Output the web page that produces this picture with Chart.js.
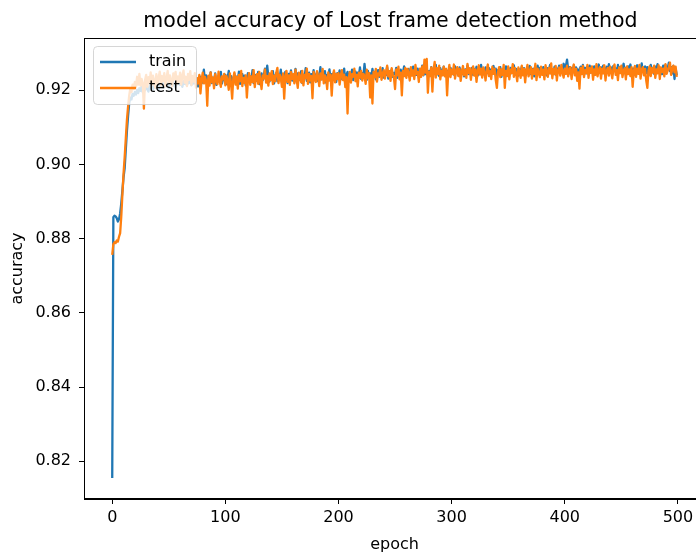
<!DOCTYPE html>
<html>
<head>
<meta charset="utf-8">
<title>model accuracy</title>
<script src="https://cdn.jsdelivr.net/npm/chart.js@4.4.1/dist/chart.umd.min.js"></script>
<style>
  html, body { margin: 0; padding: 0; background: #fff; overflow: hidden; }
  #wrap { width: 706px; height: 554px; }
</style>
</head>
<body>
<div id="wrap"><canvas id="accChart" width="706" height="554"></canvas></div>
<script>
// 图表数据
const chartTitle = 'model accuracy of Lost frame detection method';
const xLabel = 'epoch';
const yLabel = 'accuracy';
const seriesNames = ['train', 'test'];
const xTicks = [0, 100, 200, 300, 400, 500];
const yTicks = [0.82, 0.84, 0.86, 0.88, 0.90, 0.92];

// 训练集准确率，每个 epoch 一个值
const trainAcc = [
  0.8155, 0.8858, 0.8862, 0.8860, 0.8855, 0.8846, 0.8852, 0.8868, 0.8895, 0.8930, 0.8965, 0.8990, 0.9040, 0.9090, 0.9130, 0.9165, 0.9180, 0.9175, 0.9190, 0.9185,
  0.9195, 0.9188, 0.9201, 0.9192, 0.9205, 0.9198, 0.9210, 0.9194, 0.9207, 0.9200, 0.9213, 0.9203, 0.9196, 0.9211, 0.9205, 0.9216, 0.9202, 0.9209, 0.9219, 0.9206,
  0.9213, 0.9201, 0.9218, 0.9209, 0.9222, 0.9207, 0.9215, 0.9224, 0.9210, 0.9219, 0.9205, 0.9221, 0.9214, 0.9226, 0.9212, 0.9220, 0.9208, 0.9223, 0.9216, 0.9229,
  0.9214, 0.9222, 0.9209, 0.9225, 0.9217, 0.9230, 0.9212, 0.9224, 0.9219, 0.9232, 0.9213, 0.9226, 0.9218, 0.9233, 0.9215, 0.9227, 0.9210, 0.9224, 0.9236, 0.9218,
  0.9229, 0.9255, 0.9221, 0.9240, 0.9217, 0.9236, 0.9226, 0.9248, 0.9219, 0.9233, 0.9224, 0.9245, 0.9214, 0.9231, 0.9238, 0.9222, 0.9249, 0.9218, 0.9235, 0.9227,
  0.9241, 0.9216, 0.9233, 0.9252, 0.9223, 0.9238, 0.9212, 0.9229, 0.9244, 0.9220, 0.9236, 0.9227, 0.9250, 0.9217, 0.9232, 0.9243, 0.9224, 0.9239, 0.9213, 0.9230,
  0.9246, 0.9222, 0.9237, 0.9228, 0.9254, 0.9219, 0.9234, 0.9241, 0.9225, 0.9249, 0.9216, 0.9232, 0.9245, 0.9227, 0.9239, 0.9258, 0.9230, 0.9266, 0.9236, 0.9223,
  0.9242, 0.9229, 0.9251, 0.9218, 0.9237, 0.9246, 0.9224, 0.9240, 0.9231, 0.9255, 0.9221, 0.9238, 0.9227, 0.9249, 0.9235, 0.9219, 0.9244, 0.9230, 0.9253, 0.9226,
  0.9240, 0.9233, 0.9257, 0.9222, 0.9245, 0.9236, 0.9228, 0.9251, 0.9219, 0.9242, 0.9234, 0.9259, 0.9225, 0.9238, 0.9247, 0.9221, 0.9243, 0.9232, 0.9254, 0.9227,
  0.9239, 0.9248, 0.9224, 0.9236, 0.9262, 0.9229, 0.9244, 0.9233, 0.9251, 0.9220, 0.9241, 0.9237, 0.9256, 0.9226, 0.9243, 0.9231, 0.9249, 0.9235, 0.9222, 0.9246,
  0.9238, 0.9253, 0.9229, 0.9245, 0.9234, 0.9258, 0.9225, 0.9240, 0.9249, 0.9231, 0.9244, 0.9236, 0.9255, 0.9227, 0.9242, 0.9250, 0.9233, 0.9247, 0.9239, 0.9261,
  0.9230, 0.9246, 0.9237, 0.9271, 0.9241, 0.9228, 0.9252, 0.9235, 0.9245, 0.9232, 0.9257, 0.9238, 0.9249, 0.9229, 0.9244, 0.9254, 0.9236, 0.9248, 0.9240, 0.9259,
  0.9234, 0.9247, 0.9241, 0.9262, 0.9231, 0.9250, 0.9239, 0.9256, 0.9236, 0.9246, 0.9243, 0.9260, 0.9233, 0.9251, 0.9240, 0.9255, 0.9237, 0.9248, 0.9264, 0.9238,
  0.9252, 0.9242, 0.9257, 0.9235, 0.9249, 0.9244, 0.9263, 0.9239, 0.9253, 0.9241, 0.9258, 0.9236, 0.9250, 0.9246, 0.9266, 0.9240, 0.9255, 0.9243, 0.9259, 0.9237,
  0.9251, 0.9245, 0.9262, 0.9240, 0.9256, 0.9247, 0.9268, 0.9242, 0.9254, 0.9238, 0.9259, 0.9249, 0.9244, 0.9263, 0.9241, 0.9257, 0.9246, 0.9252, 0.9239, 0.9260,
  0.9248, 0.9255, 0.9242, 0.9264, 0.9246, 0.9253, 0.9240, 0.9261, 0.9250, 0.9244, 0.9258, 0.9237, 0.9256, 0.9249, 0.9266, 0.9243, 0.9254, 0.9247, 0.9260, 0.9241,
  0.9257, 0.9251, 0.9263, 0.9239, 0.9255, 0.9245, 0.9268, 0.9248, 0.9253, 0.9242, 0.9261, 0.9250, 0.9246, 0.9259, 0.9238, 0.9256, 0.9252, 0.9265, 0.9244, 0.9258,
  0.9240, 0.9254, 0.9247, 0.9262, 0.9236, 0.9251, 0.9258, 0.9243, 0.9264, 0.9249, 0.9255, 0.9241, 0.9260, 0.9246, 0.9253, 0.9267, 0.9244, 0.9257, 0.9250, 0.9239,
  0.9256, 0.9248, 0.9263, 0.9245, 0.9259, 0.9252, 0.9241, 0.9261, 0.9247, 0.9265, 0.9243, 0.9254, 0.9258, 0.9237, 0.9255, 0.9249, 0.9266, 0.9246, 0.9260, 0.9251,
  0.9244, 0.9262, 0.9250, 0.9257, 0.9240, 0.9259, 0.9253, 0.9268, 0.9245, 0.9256, 0.9248, 0.9263, 0.9242, 0.9258, 0.9251, 0.9266, 0.9247, 0.9260, 0.9254, 0.9271,
  0.9258, 0.9265, 0.9282, 0.9256, 0.9262, 0.9244, 0.9259, 0.9251, 0.9267, 0.9248, 0.9261, 0.9255, 0.9240, 0.9257, 0.9263, 0.9249, 0.9268, 0.9252, 0.9260, 0.9245,
  0.9262, 0.9254, 0.9266, 0.9247, 0.9258, 0.9251, 0.9264, 0.9243, 0.9259, 0.9256, 0.9269, 0.9248, 0.9261, 0.9253, 0.9266, 0.9246, 0.9257, 0.9263, 0.9250, 0.9270,
  0.9255, 0.9261, 0.9247, 0.9265, 0.9252, 0.9259, 0.9244, 0.9268, 0.9254, 0.9262, 0.9249, 0.9257, 0.9271, 0.9251, 0.9260, 0.9245, 0.9264, 0.9256, 0.9269, 0.9250,
  0.9258, 0.9241, 0.9263, 0.9255, 0.9267, 0.9248, 0.9261, 0.9253, 0.9272, 0.9249, 0.9259, 0.9264, 0.9246, 0.9262, 0.9240, 0.9257, 0.9268, 0.9252, 0.9260, 0.9244,
  0.9263, 0.9255, 0.9270, 0.9249, 0.9261, 0.9257, 0.9243, 0.9266, 0.9252, 0.9268, 0.9247, 0.9259, 0.9274, 0.9251, 0.9262, 0.9245, 0.9265, 0.9230, 0.9258, 0.9240
];

// 测试集准确率
const testAcc = [
  0.8756, 0.8785, 0.8790, 0.8788, 0.8795, 0.8792, 0.8805, 0.8815, 0.8860, 0.8920, 0.8975, 0.9020, 0.9070, 0.9120, 0.9155, 0.9185, 0.9205, 0.9195, 0.9215, 0.9203,
  0.9222, 0.9208, 0.9236, 0.9215, 0.9244, 0.9212, 0.9230, 0.9218, 0.9150, 0.9227, 0.9241, 0.9209, 0.9235, 0.9221, 0.9248, 0.9214, 0.9239, 0.9225, 0.9207, 0.9243,
  0.9218, 0.9234, 0.9250, 0.9213, 0.9238, 0.9224, 0.9246, 0.9210, 0.9233, 0.9252, 0.9219, 0.9240, 0.9226, 0.9211, 0.9245, 0.9229, 0.9249, 0.9216, 0.9237, 0.9222,
  0.9247, 0.9215, 0.9239, 0.9253, 0.9220, 0.9236, 0.9211, 0.9244, 0.9228, 0.9251, 0.9214, 0.9238, 0.9223, 0.9246, 0.9207, 0.9232, 0.9218, 0.9241, 0.9191, 0.9229,
  0.9247, 0.9218, 0.9236, 0.9225, 0.9158, 0.9239, 0.9212, 0.9248, 0.9221, 0.9234, 0.9205, 0.9243, 0.9227, 0.9216, 0.9250, 0.9224, 0.9209, 0.9237, 0.9229, 0.9244,
  0.9213, 0.9238, 0.9226, 0.9201, 0.9245, 0.9219, 0.9177, 0.9232, 0.9248, 0.9215, 0.9236, 0.9204, 0.9241, 0.9224, 0.9252, 0.9211, 0.9233, 0.9219, 0.9240, 0.9180,
  0.9229, 0.9246, 0.9214, 0.9237, 0.9222, 0.9254, 0.9208, 0.9235, 0.9243, 0.9217, 0.9249, 0.9226, 0.9203, 0.9240, 0.9231, 0.9256, 0.9220, 0.9238, 0.9212, 0.9245,
  0.9227, 0.9251, 0.9216, 0.9239, 0.9224, 0.9247, 0.9260, 0.9219, 0.9242, 0.9233, 0.9209, 0.9245, 0.9177, 0.9236, 0.9252, 0.9222, 0.9240, 0.9214, 0.9249, 0.9230,
  0.9243, 0.9218, 0.9255, 0.9229, 0.9206, 0.9247, 0.9235, 0.9221, 0.9252, 0.9213, 0.9241, 0.9232, 0.9258, 0.9217, 0.9244, 0.9226, 0.9238, 0.9178, 0.9249, 0.9234,
  0.9222, 0.9251, 0.9236, 0.9211, 0.9245, 0.9229, 0.9257, 0.9218, 0.9240, 0.9233, 0.9203, 0.9248, 0.9226, 0.9242, 0.9185, 0.9237, 0.9253, 0.9221, 0.9244, 0.9230,
  0.9246, 0.9215, 0.9239, 0.9254, 0.9227, 0.9242, 0.9208, 0.9235, 0.9137, 0.9231, 0.9249, 0.9220, 0.9243, 0.9236, 0.9258, 0.9224, 0.9241, 0.9210, 0.9247, 0.9233,
  0.9252, 0.9226, 0.9244, 0.9238, 0.9217, 0.9255, 0.9232, 0.9246, 0.9180, 0.9240, 0.9164, 0.9249, 0.9235, 0.9257, 0.9223, 0.9245, 0.9239, 0.9261, 0.9228, 0.9243,
  0.9254, 0.9231, 0.9248, 0.9266, 0.9237, 0.9251, 0.9225, 0.9259, 0.9242, 0.9234, 0.9203, 0.9256, 0.9240, 0.9263, 0.9229, 0.9247, 0.9186, 0.9252, 0.9238, 0.9260,
  0.9233, 0.9257, 0.9245, 0.9226, 0.9262, 0.9239, 0.9253, 0.9230, 0.9268, 0.9243, 0.9249, 0.9222, 0.9258, 0.9236, 0.9264, 0.9241, 0.9282, 0.9247, 0.9284, 0.9193,
  0.9250, 0.9238, 0.9261, 0.9196, 0.9255, 0.9276, 0.9234, 0.9259, 0.9244, 0.9266, 0.9229, 0.9252, 0.9240, 0.9263, 0.9237, 0.9257, 0.9186, 0.9249, 0.9268, 0.9235,
  0.9255, 0.9243, 0.9269, 0.9231, 0.9251, 0.9262, 0.9238, 0.9257, 0.9225, 0.9248, 0.9265, 0.9240, 0.9254, 0.9233, 0.9271, 0.9246, 0.9259, 0.9228, 0.9252, 0.9264,
  0.9239, 0.9256, 0.9222, 0.9250, 0.9267, 0.9242, 0.9258, 0.9234, 0.9261, 0.9247, 0.9226, 0.9254, 0.9269, 0.9238, 0.9251, 0.9230, 0.9263, 0.9244, 0.9257, 0.9227,
  0.9206, 0.9249, 0.9262, 0.9235, 0.9256, 0.9241, 0.9268, 0.9206, 0.9252, 0.9238, 0.9264, 0.9229, 0.9255, 0.9246, 0.9270, 0.9236, 0.9259, 0.9243, 0.9224, 0.9261,
  0.9248, 0.9233, 0.9266, 0.9240, 0.9257, 0.9221, 0.9253, 0.9268, 0.9237, 0.9250, 0.9262, 0.9231, 0.9256, 0.9244, 0.9271, 0.9227, 0.9258, 0.9246, 0.9235, 0.9263,
  0.9241, 0.9255, 0.9229, 0.9267, 0.9249, 0.9236, 0.9260, 0.9245, 0.9272, 0.9232, 0.9257, 0.9243, 0.9265, 0.9226, 0.9253, 0.9261, 0.9239, 0.9268, 0.9247, 0.9234,
  0.9258, 0.9244, 0.9266, 0.9237, 0.9255, 0.9262, 0.9230, 0.9251, 0.9269, 0.9240, 0.9257, 0.9225, 0.9248, 0.9204, 0.9260, 0.9243, 0.9265, 0.9235, 0.9254, 0.9246,
  0.9268, 0.9233, 0.9259, 0.9247, 0.9264, 0.9228, 0.9256, 0.9241, 0.9270, 0.9237, 0.9253, 0.9262, 0.9231, 0.9258, 0.9245, 0.9267, 0.9226, 0.9251, 0.9260, 0.9239,
  0.9263, 0.9249, 0.9232, 0.9257, 0.9269, 0.9241, 0.9254, 0.9227, 0.9261, 0.9246, 0.9266, 0.9235, 0.9252, 0.9259, 0.9229, 0.9264, 0.9243, 0.9256, 0.9238, 0.9262,
  0.9209, 0.9250, 0.9265, 0.9236, 0.9258, 0.9244, 0.9268, 0.9231, 0.9255, 0.9262, 0.9240, 0.9257, 0.9226, 0.9206, 0.9253, 0.9264, 0.9238, 0.9259, 0.9247, 0.9266,
  0.9233, 0.9256, 0.9245, 0.9267, 0.9230, 0.9261, 0.9249, 0.9258, 0.9237, 0.9270, 0.9244, 0.9253, 0.9262, 0.9274, 0.9241, 0.9257, 0.9266, 0.9248, 0.9263, 0.9236
];

const seriesColors = ['#1f77b4', '#ff7f0e'];
const fontFamily = '"DejaVu Sans", sans-serif';

// 坐标范围：数据范围两端各留 5%（与 matplotlib 默认一致）
function paddedRange(lo, hi) {
    const m = (hi - lo) * 0.05;
    return [lo - m, hi + m];
}
const allY = trainAcc.concat(testAcc);
const [yMin, yMax] = paddedRange(Math.min(...allY), Math.max(...allY));
const [xMin, xMax] = paddedRange(0, Math.max(trainAcc.length, testAcc.length) - 1);

function toPoints(arr) {
    return arr.map((v, i) => ({ x: i, y: v }));
}

function roundRectPath(ctx, x, y, w, h, r) {
    ctx.beginPath();
    ctx.moveTo(x + r, y);
    ctx.arcTo(x + w, y, x + w, y + h, r);
    ctx.arcTo(x + w, y + h, x, y + h, r);
    ctx.arcTo(x, y + h, x, y, r);
    ctx.arcTo(x, y, x + w, y, r);
    ctx.closePath();
}

// 边框、图例和标题（matplotlib 风格）
const mplDecor = {
    id: 'mplDecor',
    afterDatasetsDraw(chart) {
        const { ctx, chartArea: a } = chart;
        ctx.save();
        // 四周边框
        ctx.strokeStyle = '#000';
        ctx.lineWidth = 1;
        ctx.strokeRect(a.left + 0.5, a.top + 0.5, a.right - a.left - 1, a.bottom - a.top - 1);

        // 图例（左上角，半透明白底）
        const bx = a.left + 9, by = a.top + 8, bw = 103, bh = 58;
        roundRectPath(ctx, bx + 0.5, by + 0.5, bw, bh, 4);
        ctx.fillStyle = 'rgba(255,255,255,0.8)';
        ctx.fill();
        ctx.strokeStyle = 'rgba(204,204,204,0.8)';
        ctx.stroke();
        ctx.font = '16px ' + fontFamily;
        ctx.textBaseline = 'middle';
        ctx.textAlign = 'left';
        seriesNames.forEach((name, k) => {
            const ds = chart.data.datasets.find(d => d.label === name);
            const ly = by + 16 + k * 26;
            ctx.strokeStyle = ds.borderColor;
            ctx.lineWidth = 2.3;
            ctx.beginPath();
            ctx.moveTo(bx + 7, ly);
            ctx.lineTo(bx + 43, ly);
            ctx.stroke();
            ctx.fillStyle = '#000';
            ctx.fillText(name, bx + 56, ly);
        });

        // 标题
        ctx.fillStyle = '#000';
        ctx.font = '20.5px ' + fontFamily;
        ctx.textAlign = 'center';
        ctx.textBaseline = 'alphabetic';
        ctx.fillText(chartTitle, (a.left + a.right) / 2 - 4, 27);
        ctx.restore();
    }
};

const axisCommon = {
    type: 'linear',
    grid: { display: true, drawOnChartArea: false, drawTicks: true, tickLength: 5, tickColor: '#000', lineWidth: 1 },
    border: { display: true, color: '#000', width: 1 },
};

new Chart(document.getElementById('accChart'), {
    type: 'line',
    data: {
        datasets: [
            {
                label: seriesNames[0],
                data: toPoints(trainAcc),
                borderColor: seriesColors[0],
                borderWidth: 2.3,
                pointRadius: 0,
                tension: 0,
                borderJoinStyle: 'round',
                order: 1
            },
            {
                label: seriesNames[1],
                data: toPoints(testAcc),
                borderColor: seriesColors[1],
                borderWidth: 2.3,
                pointRadius: 0,
                tension: 0,
                borderJoinStyle: 'round',
                order: 0
            }
        ]
    },
    options: {
        responsive: false,
        animation: false,
        layout: { padding: { top: 38, left: 0, right: 1, bottom: 0 } },
        plugins: {
            legend: { display: false },
            title: { display: false },
            tooltip: { enabled: false }
        },
        scales: {
            x: {
                ...axisCommon,
                min: xMin,
                max: xMax,
                afterBuildTicks: s => { s.ticks = xTicks.map(v => ({ value: v })); },
                afterFit: s => { s.height = 55; },
                ticks: {
                    autoSkip: false, maxRotation: 0, padding: 4, color: '#000',
                    font: { family: fontFamily, size: 16 },
                    callback: v => String(v)
                },
                title: {
                    display: true, text: xLabel, color: '#000',
                    font: { family: fontFamily, size: 16 },
                    padding: { top: 0, bottom: 0 }
                }
            },
            y: {
                ...axisCommon,
                min: yMin,
                max: yMax,
                afterBuildTicks: s => { s.ticks = yTicks.map(v => ({ value: v })); },
                afterFit: s => { s.width = 84; },
                ticks: {
                    autoSkip: false, padding: 8, color: '#000',
                    font: { family: fontFamily, size: 16 },
                    callback: v => v.toFixed(2)
                },
                title: {
                    display: true, text: yLabel, color: '#000',
                    font: { family: fontFamily, size: 16 },
                    padding: { top: 8, bottom: 0 }
                }
            }
        }
    },
    plugins: [mplDecor]
});
</script>
</body>
</html>
